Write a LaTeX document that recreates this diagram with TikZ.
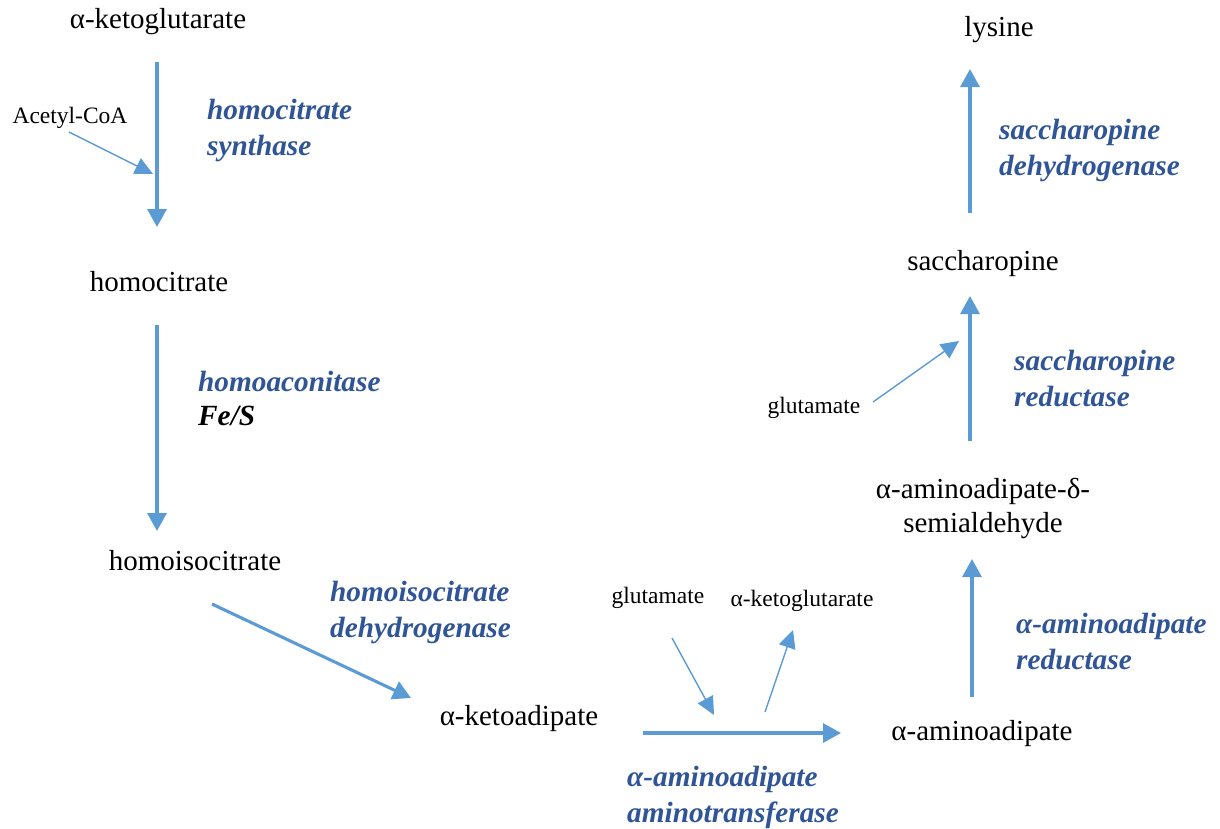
\documentclass[tikz,border=0pt]{standalone}
\usepackage{fontspec}
\setmainfont{Liberation Serif}
\usetikzlibrary{arrows.meta}
\definecolor{arrowblue}{HTML}{5B9BD5}
\definecolor{enzblue}{HTML}{2F5597}
\begin{document}
\begin{tikzpicture}[x=1pt,y=-1pt,
  mol/.style={inner sep=0pt,font=\fontsize{29}{34}\selectfont},
  small/.style={inner sep=0pt,font=\fontsize{23.5}{28}\selectfont},
  enz/.style={inner sep=0pt,anchor=west,text=enzblue,font=\fontsize{29.3}{36}\selectfont\bfseries\itshape},
  cofac/.style={inner sep=0pt,anchor=west,font=\fontsize{29.3}{36}\selectfont\bfseries\itshape},
  mainarrow/.style={draw=arrowblue,line width=3.1pt,-{Triangle[width=19pt,length=18pt]},arrowblue},
  siderrow/.style={draw=arrowblue,line width=1.4pt,-{Triangle[width=17pt,length=18pt]},arrowblue}]
\useasboundingbox (0,0) rectangle (1220,828);

% metabolites
\node[mol] (akg) at (158,22) {α-ketoglutarate};
\node[mol] (hc) at (159,282) {homocitrate};
\node[mol] (hic) at (195,561) {homoisocitrate};
\node[mol] (kad) at (519,719) {α-ketoadipate};
\node[mol] (aad) at (982,734) {α-aminoadipate};
\node[mol,align=center] (sald) at (983,508) {α-aminoadipate-δ-\\semialdehyde};
\node[mol] (sac) at (983,264) {saccharopine};
\node[mol] (lys) at (999,30) {lysine};

% co-substrates and co-products
\node[small] (acoa) at (70,118) {Acetyl-CoA};
\node[small] (glu1) at (658,598) {glutamate};
\node[small] (akg2) at (802,601) {α-ketoglutarate};
\node[small] (glu2) at (814,408) {glutamate};

% enzymes
\node[enz,align=left] (hcs) at (207,130) {homocitrate\\synthase};
\node[enz] (hac) at (198,381) {homoaconitase};
\node[cofac] (fes) at (198,416) {Fe/S};
\node[enz,align=left] (hidh) at (330,612) {homoisocitrate\\dehydrogenase};
\node[enz,align=left] (aat) at (627,797) {α-aminoadipate\\aminotransferase};
\node[enz,align=left] (aar) at (1016,641) {α-aminoadipate\\reductase};
\node[enz,align=left] (sr) at (1014,378) {saccharopine\\reductase};
\node[enz,align=left] (sdh) at (999,150) {saccharopine\\dehydrogenase};

% arrow end points
\coordinate (s1) at (157,62);   \coordinate (e1) at (157,227);
\coordinate (s2) at (157,325);  \coordinate (e2) at (157,531);
\coordinate (s3) at (212,604);  \coordinate (e3) at (411,698);
\coordinate (s4) at (643,733);  \coordinate (e4) at (841,733);
\coordinate (s5) at (972,697);  \coordinate (e5) at (972,559);
\coordinate (s6) at (970,441);  \coordinate (e6) at (970,296);
\coordinate (s7) at (970,213);  \coordinate (e7) at (970,69);
\coordinate (ac1) at (69,132);  \coordinate (ac2) at (153,174);
\coordinate (g1a) at (672,638); \coordinate (g1b) at (714,715);
\coordinate (k2a) at (765,712); \coordinate (k2b) at (793,630);
\coordinate (g2a) at (873,402); \coordinate (g2b) at (959,341);

% main pathway
\draw[mainarrow] (s1) -- (e1);
\draw[mainarrow] (s2) -- (e2);
\draw[mainarrow] (s3) -- (e3);
\draw[mainarrow] (s4) -- (e4);
\draw[mainarrow] (s5) -- (e5);
\draw[mainarrow] (s6) -- (e6);
\draw[mainarrow] (s7) -- (e7);

% side reactions
\draw[siderrow] (ac1) -- (ac2);
\draw[siderrow] (g1a) -- (g1b);
\draw[siderrow] (k2a) -- (k2b);
\draw[siderrow] (g2a) -- (g2b);
\end{tikzpicture}
\end{document}
